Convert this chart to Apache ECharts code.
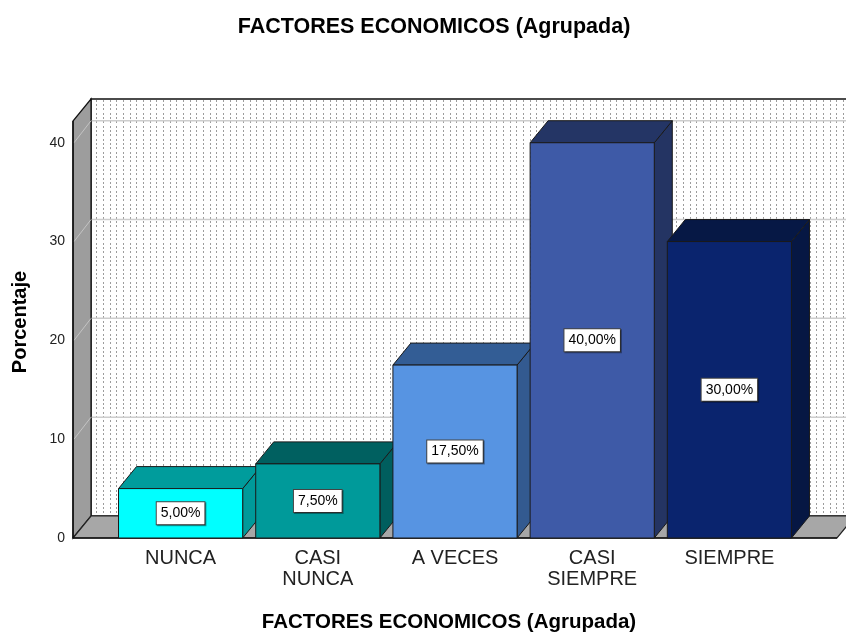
<!DOCTYPE html>
<html>
<head>
<meta charset="utf-8">
<script src="https://cdn.jsdelivr.net/npm/echarts@6/dist/echarts.min.js"></script>
<style>html,body{margin:0;padding:0;background:#fff}#c{width:846px;height:635px}</style>
</head>
<body>
<div id="c"></div>
<script>
// ---- data ----
const categories = ['NUNCA', 'CASI\nNUNCA', 'A VECES', 'CASI\nSIEMPRE', 'SIEMPRE'];
const percentages = [5, 7.5, 17.5, 40, 30];
const yTicks = [0, 10, 20, 30, 40];
const titleText = 'FACTORES ECONOMICOS (Agrupada)';
const yName = 'Porcentaje';

// ---- styles ----
const frontColors = ['#00FFFF', '#009A9A', '#5794E2', '#3E5AA7', '#0A246E'];
const topColors   = ['#009C9C', '#006060', '#335D95', '#243565', '#061845'];
const sideColors  = ['#009A9A', '#005E5E', '#335A90', '#243463', '#061743'];
const DX = 18, DY = 22, PAD = 39, BAR_RATIO = 0.905;
const FONT = '"Liberation Sans", Arial, sans-serif';

function makePattern() {
  const cv = document.createElement('canvas');
  cv.width = 20; cv.height = 13;
  const g = cv.getContext('2d');
  g.fillStyle = '#ffffff'; g.fillRect(0, 0, 20, 13);
  g.fillStyle = '#9c9c9c';
  [3, 10, 16].forEach(x => [0, 4, 9].forEach(y => g.fillRect(x, y, 1, 2)));
  return cv;
}
const pattern = makePattern();

const chart = echarts.init(document.getElementById('c'), null, {renderer: 'canvas'});

function renderBackground(params, api) {
  const cs = params.coordSys;
  const x0 = cs.x - PAD, x1 = cs.x + cs.width + PAD;
  const yb = api.coord([0, 0])[1];
  const yt = cs.y;
  const children = [];
  children.push({type: 'rect', shape: {x: x0 + DX, y: yt - DY, width: x1 - x0, height: yb - yt},
    style: {fill: {image: pattern, repeat: 'repeat'}, stroke: '#111', lineWidth: 1.5}});
  yTicks.filter(v => v > 0).forEach(v => {
    const y = api.coord([0, v])[1] - DY;
    children.push({type: 'line', shape: {x1: x0 + DX, y1: y, x2: x1 + DX, y2: y},
      style: {stroke: '#cdcdcd', lineWidth: 1.5}});
  });
  children.push({type: 'polygon', shape: {points: [[x0, yb], [x0, yt], [x0 + DX, yt - DY], [x0 + DX, yb - DY]]},
    style: {fill: '#9d9d9d', stroke: '#111', lineWidth: 1.2}});
  yTicks.filter(v => v > 0).forEach(v => {
    const y = api.coord([0, v])[1];
    children.push({type: 'line', shape: {x1: x0 + 1, y1: y, x2: x0 + DX, y2: y - DY},
      style: {stroke: '#c4c4c4', lineWidth: 1}});
  });
  children.push({type: 'polygon', shape: {points: [[x0, yb], [x1, yb], [x1 + DX, yb - DY], [x0 + DX, yb - DY]]},
    style: {fill: '#a7a7a7', stroke: '#222', lineWidth: 1.2}});
  children.push({type: 'line', shape: {x1: x0, y1: yb, x2: x1, y2: yb}, style: {stroke: '#111', lineWidth: 1.5}});
  children.push({type: 'line', shape: {x1: x0, y1: yb, x2: x0, y2: yt}, style: {stroke: '#111', lineWidth: 1.5}});
  return {type: 'group', children};
}

function renderBar(params, api) {
  const i = params.dataIndex;
  const cat = api.value(0), val = api.value(1);
  const p0 = api.coord([cat, 0]);
  const p1 = api.coord([cat, val]);
  const bw = api.size([1, 0])[0] * BAR_RATIO;
  const xl = p0[0] - bw / 2, xr = p0[0] + bw / 2, yb = p0[1], yt = p1[1];
  const edge = {stroke: '#1a1a1a', lineWidth: 1};
  return {type: 'group', children: [
    {type: 'polygon', shape: {points: [[xr, yt], [xr + DX, yt - DY], [xr + DX, yb - DY], [xr, yb]]},
      style: Object.assign({fill: sideColors[i]}, edge)},
    {type: 'polygon', shape: {points: [[xl, yt], [xl + DX, yt - DY], [xr + DX, yt - DY], [xr, yt]]},
      style: Object.assign({fill: topColors[i]}, edge)},
    {type: 'rect', shape: {x: xl, y: yt, width: bw, height: yb - yt},
      style: Object.assign({fill: frontColors[i]}, edge)},
    {type: 'text', x: p0[0], y: (yb + yt) / 2,
      style: {text: val.toFixed(2).replace('.', ',') + '%', align: 'center', verticalAlign: 'middle',
        font: '14px ' + FONT, fill: '#000', backgroundColor: '#fff', borderColor: '#444', borderWidth: 1,
        padding: [5, 4, 3, 4], shadowColor: 'rgba(0,0,0,0.35)', shadowOffsetX: 1, shadowOffsetY: 1}}
  ]};
}

chart.setOption({
  animation: false,
  backgroundColor: '#fff',
  grid: {left: 112, right: 48, top: 121, bottom: 97, containLabel: false},
  xAxis: {
    type: 'category', data: categories,
    axisLine: {show: false}, axisTick: {show: false}, splitLine: {show: false},
    axisLabel: {color: '#222', fontFamily: FONT, fontSize: 20, lineHeight: 21, margin: 10, interval: 0}
  },
  yAxis: {
    type: 'value', min: 0, max: 42.2, interval: 10, offset: PAD,
    axisLine: {show: false}, axisTick: {show: false}, splitLine: {show: false},
    axisLabel: {color: '#222', fontFamily: FONT, fontSize: 14, margin: 8, showMaxLabel: false}
  },
  graphic: [
    {type: 'text', x: 434, y: 27, style: {text: titleText, font: 'bold 21.5px ' + FONT, fill: '#000', align: 'center', verticalAlign: 'middle'}},
    {type: 'text', x: 449, y: 622, style: {text: titleText, font: 'bold 20.5px ' + FONT, fill: '#000', align: 'center', verticalAlign: 'middle'}},
    {type: 'text', x: 20, y: 322, rotation: Math.PI / 2, style: {text: yName, font: 'bold 20px ' + FONT, fill: '#000', align: 'center', verticalAlign: 'middle'}}
  ],
  series: [
    {type: 'custom', clip: false, z: 1, data: [[0, 0]], renderItem: renderBackground, silent: true},
    {type: 'custom', clip: false, z: 2, data: percentages.map((v, i) => [i, v]), renderItem: renderBar,
      encode: {x: 0, y: 1}}
  ]
});
</script>
</body>
</html>
